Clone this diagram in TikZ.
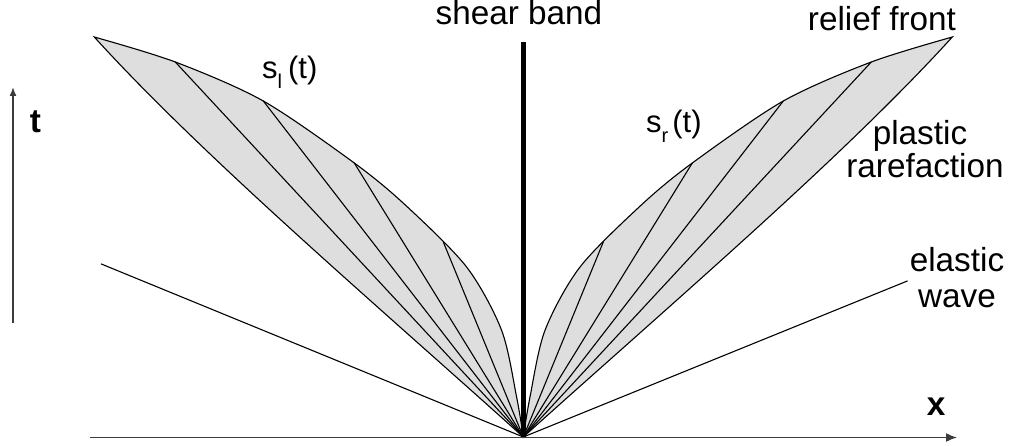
\documentclass[tikz,border=0pt]{standalone}
\usepackage{fontspec}
\setmainfont{Liberation Sans}
\usetikzlibrary{arrows.meta}
\definecolor{fanfill}{RGB}{222,222,222}
\definecolor{axisgray}{RGB}{60,60,60}
\newcommand{\subl}[1]{\raisebox{-10pt}{\fontsize{20}{20}\selectfont #1}}
\begin{document}
\begin{tikzpicture}[x=1pt,y=1pt,
  fanline/.style={line width=1.1pt, line cap=round},
  fanarea/.style={fill=fanfill, draw=black, line width=1.1pt},
  axisline/.style={draw=axisgray, line width=1.5pt},
  lbl/.style={font=\fontsize{33.3}{38}\selectfont, inner sep=0pt, anchor=base},
  slbl/.style={font=\fontsize{31}{34}\selectfont, inner sep=0pt, anchor=base west},
]
\useasboundingbox (0,0) rectangle (1012,445);
\coordinate (O) at (523.3,8);
\begin{scope}[shift={(O)}]
  % right fan
  \coordinate (Rtip) at (429,400);
  \coordinate (R1) at (80,195);
  \coordinate (R2) at (169,274);
  \coordinate (R3) at (260,336);
  \coordinate (R4) at (348,375);
  % left fan
  \coordinate (Ltip) at (-429,400);
  \coordinate (L1) at (-80,195);
  \coordinate (L2) at (-169,274);
  \coordinate (L3) at (-260,336);
  \coordinate (L4) at (-348,375);
  % elastic waves
  \coordinate (Re) at (384,156);
  \coordinate (Le) at (-422,173);
  % shear band top
  \coordinate (Ztop) at (0,395);
  % fan areas
  \path[fanarea] plot[smooth] coordinates {(0,0) (6.7,40) (21.7,106.7) (56.7,170) (118,232) (169,274) (260,336) (348,375) (429,400)} .. controls (320,280) and (150,135) .. (0,0) -- cycle;
  \path[fanarea, xscale=-1] plot[smooth] coordinates {(0,0) (6.7,40) (21.7,106.7) (56.7,170) (118,232) (169,274) (260,336) (348,375) (429,400)} .. controls (320,280) and (150,135) .. (0,0) -- cycle;
\end{scope}
% characteristics
\foreach \p in {R1,R2,R3,R4,L1,L2,L3,L4} \draw[fanline] (O) -- (\p);
% elastic waves
\draw[fanline] (O) -- (Re);
\draw[fanline] (O) -- (Le);
% shear band
\draw[line width=5.5pt] (O) -- (Ztop);
% axes
\coordinate (xs) at (90,7.5);
\coordinate (xe) at (957,7.5);
\coordinate (ts) at (13,122);
\coordinate (te) at (13,358);
\draw[axisline, -{Latex[length=11pt,width=9pt]}] (xs) -- (xe);
\draw[axisline, -{Latex[length=9pt,width=7pt]}] (ts) -- (te);
% labels
\node[lbl] (shear) at (519,420) {shear band};
\node[lbl] (relief) at (882,414) {relief front};
\node[lbl] (plastic) at (920,300) {plastic};
\node[lbl] (rare) at (925,267) {rarefaction};
\node[lbl] (elastic) at (957,173) {elastic};
\node[lbl] (wave) at (957,138) {wave};
\node[lbl, font=\fontsize{33.3}{38}\selectfont\bfseries] (xlab) at (936,30) {x};
\node[lbl, font=\fontsize{33.3}{38}\selectfont\bfseries] (tlab) at (35.5,312) {t};
\node[slbl] (sl) at (262,366) {s\subl{l}\hspace{6pt}(t)};
\node[slbl] (sr) at (646,312) {s\subl{r}\hspace{4pt}(t)};
\end{tikzpicture}
\end{document}
